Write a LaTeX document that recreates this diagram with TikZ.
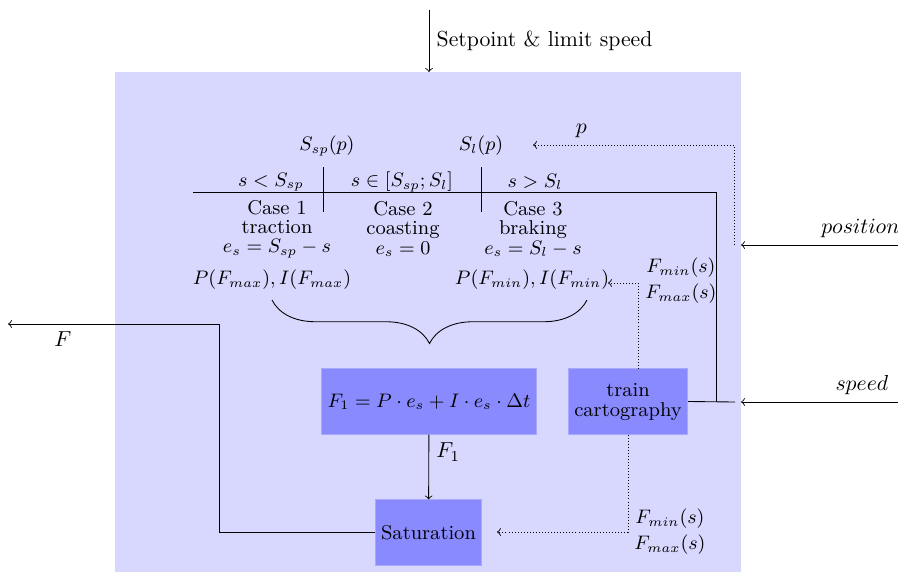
\documentclass[tikz,border=0pt]{standalone}
\usepackage{amsmath}
\usepackage{tikz}
\usetikzlibrary{positioning,decorations.pathreplacing,calc}
\definecolor{ctrlbg}{HTML}{D8D8FF}
\definecolor{ctrlbox}{HTML}{8A8AFF}
\definecolor{ctrledge}{HTML}{A8A8FF}

\begin{document}
\begin{tikzpicture}[x=0.46pt,y=-0.46pt,
  font=\fontsize{9.2pt}{11pt}\selectfont,
  blk/.style={draw=ctrledge,fill=ctrlbox,align=center,inner sep=2pt,
              minimum height=30pt,font=\fontsize{9.2pt}{9.2pt}\selectfont},
  lbl/.style={inner sep=1pt,align=center,font=\fontsize{9.2pt}{12pt}\selectfont},
  cse/.style={inner sep=1pt,align=center,font=\fontsize{9.2pt}{8.8pt}\selectfont},
  io/.style={font=\normalsize},
  sig/.style={->},
  aux/.style={->,densely dotted}
]
\useasboundingbox (0,0) rectangle (898,572);
% controller area
\fill[ctrlbg] (115,72) rectangle (741,572);

% blocks
\node[blk,minimum width=99pt] (pid) at (429,401.5)
  {$F_1 = P\cdot e_s + I\cdot e_s\cdot\Delta t$};
\node[blk,minimum width=55pt] (carto) at (628,401.5) {train\\cartography};
\node[blk,minimum width=49pt] (sat) at (428.5,532.5) {Saturation};

% speed scale with the three cases
\node[lbl] (ssp) at (327,146) {$S_{sp}(p)$};
\node[lbl] (sl) at (481,146) {$S_l(p)$};
\node[lbl] (r1) at (271,182) {$s<S_{sp}$};
\node[lbl] (r2) at (402,182) {$s\in[S_{sp};S_l]$};
\node[lbl] (r3) at (535,182) {$s>S_l$};
\node[cse] (c1) at (277,229) {Case 1\\traction\\$e_s=S_{sp}-s$};
\node[cse] (c2) at (403,229) {Case 2\\coasting\\$e_s=0$};
\node[cse] (c3) at (533,229) {Case 3\\braking\\$e_s=S_l-s$};
\node[lbl] (g1) at (272,280) {$P(F_{max}),I(F_{max})$};
\node[lbl] (g3) at (532,280) {$P(F_{min}),I(F_{min})$};
\node[lbl] (lim1) at (681,281) {$F_{min}(s)$\\$F_{max}(s)$};
\node[lbl] (lim2) at (670,532) {$F_{min}(s)$\\$F_{max}(s)$};

\coordinate (ssptop) at (323,167);
\coordinate (sspbot) at (323,212);
\coordinate (sltop) at (481,167);
\coordinate (slbot) at (481,212);
\coordinate (barleft) at (193,192);
\coordinate (bracel) at (272,300);
\coordinate (bracer) at (587,300);

% inputs and outputs
\coordinate (setin) at (429,10);
\coordinate (setend) at (429,72);
\coordinate (posin) at (898,245);
\coordinate (posend) at (741,245);
\coordinate (posjoin) at (734,245);
\coordinate (pend) at (533,145);
\coordinate (spdin) at (898,402);
\coordinate (spdend) at (741,402);
\coordinate (spdjoin) at (735,402);
\coordinate (spdtap) at (716,402);
\coordinate (limup) at (638,369);
\coordinate (limend) at (608,283);
\coordinate (satlim) at (497,532);
\coordinate (fbend) at (219,324);
\coordinate (fout) at (8,324);

\draw (ssptop) -- (sspbot);
\draw (sltop) -- (slbot);
\draw[decorate,decoration={brace,mirror,amplitude=20pt}] (bracel) -- (bracer);

\draw[sig] (setin) -- node[right,io]{Setpoint \& limit speed} (setend);
\draw[sig] (posin) -- node[pos=0.24,above,io]{$position$} (posend);
\draw[sig] (spdin) -- node[pos=0.23,above,io]{$speed$} (spdend);
\draw (carto.east) -- (spdjoin);
\draw (spdtap) |- (barleft);
\draw[aux] (posjoin) |- node[pos=0.88,above,io]{$p$} (pend);
\draw[aux] (limup) |- (limend);
\draw[aux] (carto.south) |- (satlim);
\draw[sig] (pid) -- node[pos=0.27,right,io]{$F_1$} (sat);
\draw[sig] (sat.west) -| (fbend) -- node[pos=0.74,below,io]{$F$} (fout);
\end{tikzpicture}
\end{document}
